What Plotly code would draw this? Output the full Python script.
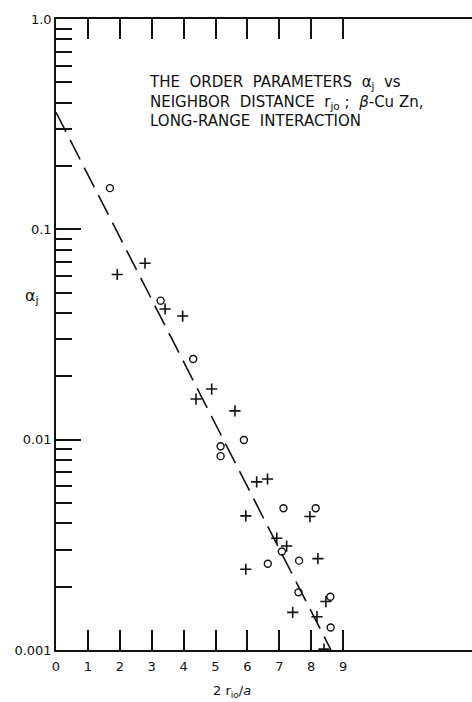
import plotly.graph_objects as go

# ---- data ----
circle_x = [1.69, 3.28, 4.30, 5.16, 5.16, 5.89, 7.13, 8.14, 7.08, 7.62, 6.64, 7.60, 8.60, 8.61]
circle_y = [0.157, 0.0458, 0.0242, 0.0093, 0.00835, 0.00997, 0.00472, 0.00472, 0.00294, 0.00266,
            0.00257, 0.00188, 0.00179, 0.00128]

plus_x = [1.92, 2.79, 3.42, 3.97, 4.39, 4.88, 5.61, 6.29, 6.63, 5.95, 7.96, 6.92, 7.23, 8.21,
          5.95, 8.46, 7.42, 8.18, 8.40]
plus_y = [0.061, 0.069, 0.0418, 0.0387, 0.0156, 0.0174, 0.0137, 0.0063, 0.0065, 0.00434, 0.00431,
          0.0034, 0.00312, 0.00272, 0.00242, 0.00170, 0.00151, 0.00144, 0.00101]

fit_x = [0.0, 8.62]
fit_y = [0.36, 0.001]

x_ticks = [0, 1, 2, 3, 4, 5, 6, 7, 8, 9]
x_ticklabels = ["0", "1", "2", "3", "4", "5", "6", "7", "8", "9"]
y_ticks = [0.001, 0.01, 0.1, 1.0]
y_ticklabels = ["0.001", "0.01", "0.1", "1.0"]
y_minor = [k * 10 ** e for e in (-3, -2, -1) for k in range(2, 10)]

FONT = "DejaVu Sans"
INK = "#111111"

fig = go.Figure()
fig.add_trace(go.Scatter(
    x=fit_x, y=fit_y, mode="lines",
    line=dict(color=INK, width=1.6, dash="22px,9px"),
    hoverinfo="skip", showlegend=False))
fig.add_trace(go.Scatter(
    x=circle_x, y=circle_y, mode="markers",
    marker=dict(symbol="circle-open", size=7, color=INK, line=dict(width=1.4, color=INK)),
    showlegend=False))
fig.add_trace(go.Scatter(
    x=plus_x, y=plus_y, mode="markers",
    marker=dict(symbol="cross-thin-open", size=8, color=INK, line=dict(width=1.6, color=INK)),
    showlegend=False))

fig.update_layout(
    width=472, height=702,
    margin=dict(l=56, r=0, t=19, b=52),
    paper_bgcolor="white", plot_bgcolor="white",
    font=dict(family=FONT, size=13, color=INK),
    xaxis=dict(
        range=[0, 13.04], showgrid=False, zeroline=False,
        showline=True, linecolor=INK, linewidth=1.5, mirror="ticks",
        ticks="inside", ticklen=20, tickwidth=1.5, tickcolor=INK,
        tickmode="array", tickvals=x_ticks, ticktext=x_ticklabels,
        ticklabelstandoff=4,
        tickfont=dict(family=FONT, size=13, color=INK),
    ),
    yaxis=dict(
        type="log", range=[-3, 0], showgrid=False, zeroline=False,
        showline=True, linecolor=INK, linewidth=1.5,
        ticks="inside", ticklen=25, tickwidth=1.5, tickcolor=INK,
        tickmode="array", tickvals=y_ticks, ticktext=y_ticklabels,
        tickfont=dict(family=FONT, size=13, color=INK),
        minor=dict(ticks="inside", ticklen=16, tickwidth=1.5, tickcolor=INK,
                   tickmode="array", tickvals=y_minor, showgrid=False),
    ),
    yaxis2=dict(
        type="log", range=[-3, 0], overlaying="y", side="right",
        showgrid=False, zeroline=False, showline=False, showticklabels=False,
        ticks="inside", ticklen=13, tickwidth=1.5, tickcolor=INK,
        tickmode="array", tickvals=y_ticks,
        minor=dict(ticks="inside", ticklen=6, tickwidth=1.5, tickcolor=INK,
                   tickmode="array", tickvals=y_minor, showgrid=False),
    ),
)

fig.add_annotation(
    xref="x", yref="paper", x=2.85, y=0.918, xanchor="left", yanchor="top",
    align="left", showarrow=False,
    text=("THE  ORDER  PARAMETERS  α<sub>j</sub>  vs<br>"
          "NEIGHBOR  DISTANCE  r<sub>jo</sub> ;  <i>β</i>-Cu Zn,<br>"
          "LONG-RANGE  INTERACTION"),
    font=dict(family=FONT, size=15, color=INK),
)
fig.add_annotation(
    xref="paper", yref="paper", x=-0.058, y=0.56, xanchor="center", yanchor="middle",
    showarrow=False, text="α<sub>j</sub>",
    font=dict(family=FONT, size=16, color=INK),
)
fig.add_annotation(
    xref="x", yref="paper", x=5.51, y=-0.065, xanchor="center", yanchor="middle",
    showarrow=False, text="2 r<sub>io</sub>/<i>a</i>",
    font=dict(family=FONT, size=13, color=INK),
)

fig.write_html(
    "out.html",
    config={"displayModeBar": False},
    post_script=("document.documentElement.style.margin='0';"
                 "document.body.style.margin='0';"
                 "document.documentElement.style.overflow='hidden';"
                 "document.body.style.overflow='hidden';"),
)
